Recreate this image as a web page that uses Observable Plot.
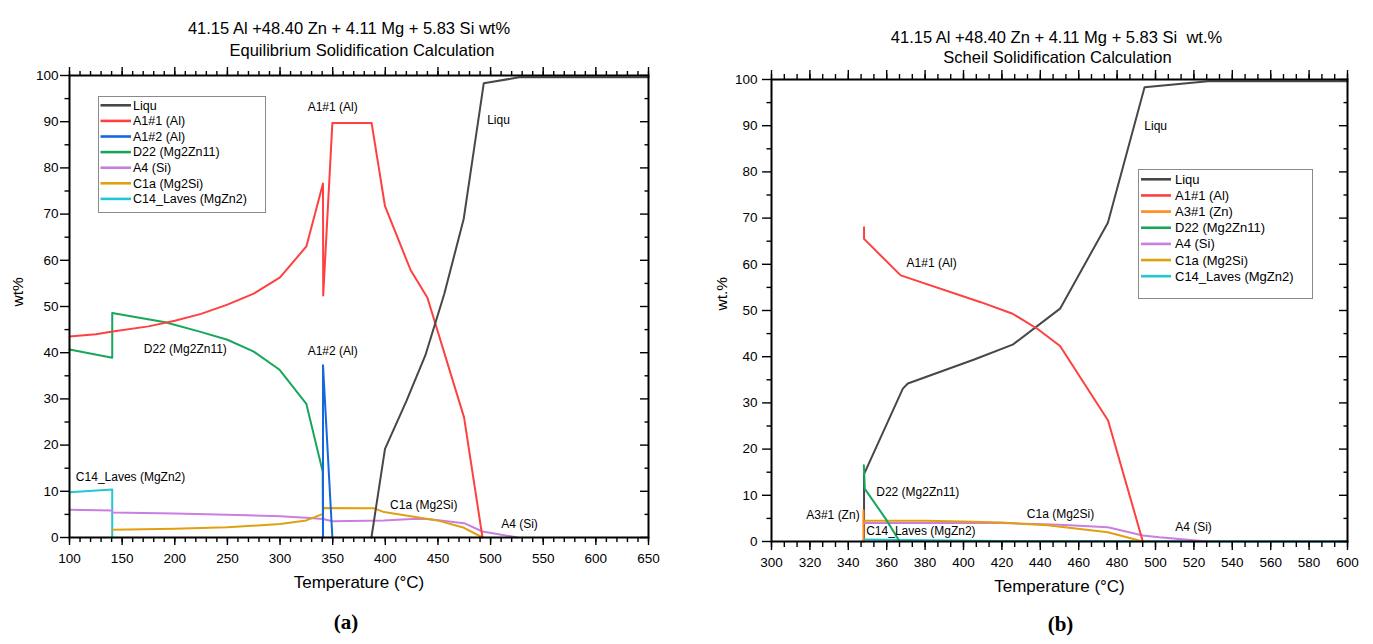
<!DOCTYPE html>
<html><head><meta charset="utf-8">
<script src="https://cdn.jsdelivr.net/npm/d3@7"></script>
<script src="https://cdn.jsdelivr.net/npm/@observablehq/plot@0.6"></script>
<style>
body{margin:0;background:#fff;font-family:"Liberation Sans",Arial,sans-serif}
#wrap{position:relative;width:1373px;height:644px;display:flex;overflow:hidden}
#wrap > svg{flex:none;max-width:none}
.legend{position:absolute;border:1px solid #8a8a8a;background:#fff;box-sizing:border-box}
.legend .clip{overflow:hidden;position:absolute;left:0;top:0;right:0}
</style></head><body><div id="wrap"></div>
<script>
// ---------- data ----------
const yTicks = [0,10,20,30,40,50,60,70,80,90,100];
const yMinorTicks = [5,15,25,35,45,55,65,75,85,95];
const eqXTicks = [100,150,200,250,300,350,400,450,500,550,600,650];
const scXTicks = [300,320,340,360,380,400,420,440,460,480,500,520,540,560,580,600];

const colors = {
  "Liqu": "#474747",
  "A1#1 (Al)": "#ff4040",
  "A1#2 (Al)": "#1467dc",
  "A3#1 (Zn)": "#ff8a1c",
  "D22 (Mg2Zn11)": "#17a65b",
  "A4 (Si)": "#c97ee0",
  "C1a (Mg2Si)": "#e0a010",
  "C14_Laves (MgZn2)": "#1fc8d4"
};

// (a) Equilibrium solidification: [temperature °C, wt%]
const eqLiqu = [[386.8,0],[399.7,19.2],[420,29.5],[438,39.4],[456,52.7],[474.5,69],[493.5,98.3],[527,99.6],[650,99.6]];
const eqA1_1 = [[100,43.5],[125,44.0],[141,44.6],[175,45.7],[200,46.9],[225,48.4],[250,50.4],[275,52.8],[300,56.3],[325,63],[340.8,76.6],[341,52.4],[349.7,89.7],[387,89.7],[399.7,71.7],[424,57.9],[440,51.9],[474.8,26],[492.3,0]];
const eqA1_2 = [[340.8,0],[340.8,37.3],[349.7,0]];
const eqD22 = [[100,40.7],[140.6,38.9],[140.6,48.6],[165,47.6],[191,46.6],[224.5,44.5],[250,42.8],[274.6,40.3],[299.6,36.3],[325,28.9],[340.5,14.3],[340.8,0]];
const eqA4 = [[100,6.0],[140.6,5.85],[140.6,5.4],[200,5.2],[250,4.9],[300,4.6],[325,4.3],[340.8,4.0],[349.7,3.5],[398.8,3.7],[425,4.0],[440,4.0],[474.8,3.1],[492.3,1.3],[525.6,0]];
const eqC1a = [[140.6,1.7],[200,1.9],[250,2.2],[300,2.9],[325,3.7],[340.8,5.1],[341,6.4],[388.7,6.35],[398.8,5.5],[449.4,3.7],[474.8,2.1],[492.3,0]];
const eqC14 = [[100,9.8],[140.6,10.4],[140.6,0]];

// (b) Scheil solidification: [temperature °C, wt%]
const scLiqu = [[348.2,0],[348.2,14.6],[368.4,33.1],[371,34.2],[405.6,39.4],[425.6,42.6],[450.3,50.4],[475.2,69],[494.3,98.3],[527.3,99.6],[600,99.6]];
const scA1_1 = [[348.2,68],[348.2,65.5],[367.3,57.6],[409,51.8],[425.6,49.3],[438.6,46],[450.3,42.3],[475.3,26.2],[493.4,0]];
const scA3_1 = [[347.9,0],[347.9,6.7]];
const scD22 = [[348.1,16.5],[348.6,11.4],[359.5,4.9],[366.4,0.2]];
const scA4 = [[347.9,4.0],[400,4.0],[420,4.0],[450,3.6],[475.2,3.1],[493.4,1.3],[502,0.9],[527,0]];
const scC1a = [[347.9,4.5],[380,4.5],[400,4.35],[420,4.1],[443.8,3.5],[475.2,2.0],[493.4,0]];
const scC14 = [[347.9,0.45],[370,0.35],[420,0.1],[600,0]];

const eqLabels = [
  {text:"A1#1 (Al)", T:350, w:93.1},
  {text:"Liqu", T:507.5, w:90.3},
  {text:"A1#2 (Al)", T:350, w:40.3},
  {text:"D22 (Mg2Zn11)", T:210, w:40.7},
  {text:"C14_Laves (MgZn2)", T:158, w:13.05},
  {text:"C1a (Mg2Si)", T:436.5, w:6.9},
  {text:"A4 (Si)", T:527.5, w:2.95}
];
const scLabels = [
  {text:"Liqu", T:500.1, w:90.0},
  {text:"A1#1 (Al)", T:383.4, w:60.2},
  {text:"D22 (Mg2Zn11)", T:376.2, w:10.7},
  {text:"A3#1 (Zn)", T:332, w:5.6},
  {text:"C14_Laves (MgZn2)", T:377.8, w:2.2},
  {text:"C1a (Mg2Si)", T:450.5, w:6.0},
  {text:"A4 (Si)", T:519.8, w:3.1}
];

const eqSeries = [["Liqu",eqLiqu],["A1#1 (Al)",eqA1_1],["A1#2 (Al)",eqA1_2],["D22 (Mg2Zn11)",eqD22],["A4 (Si)",eqA4],["C1a (Mg2Si)",eqC1a],["C14_Laves (MgZn2)",eqC14]];
const scSeries = [["Liqu",scLiqu],["A1#1 (Al)",scA1_1],["A3#1 (Zn)",scA3_1],["D22 (Mg2Zn11)",scD22],["A4 (Si)",scA4],["C1a (Mg2Si)",scC1a],["C14_Laves (MgZn2)",scC14]];

// ---------- drawing ----------
const font = "'Liberation Sans', Arial, Helvetica, sans-serif";

function buildPanel(o){
  const marks = [];
  const order = o.drawOrder.map(n => o.series.find(s => s[0] === n));
  for (const [name, pts] of order) {
    marks.push(Plot.line(pts, {x: d => d[0], y: d => d[1], stroke: colors[name], strokeWidth: 2}));
  }
  marks.push(Plot.frame({stroke: "#000", strokeWidth: 2}));
  const ax = {strokeWidth: 1.4, label: null};
  marks.push(Plot.axisX({...ax, anchor:"bottom", ticks:o.xTicks, tickSize:o.tb[0], tickPadding:o.xPad, fontSize:13.5, tickFormat:d=>String(d)}));
  marks.push(Plot.axisX({...ax, anchor:"bottom", ticks:o.xMinor, tickSize:o.tb[1], tickFormat:()=>""}));
  marks.push(Plot.axisX({...ax, anchor:"top", ticks:o.xTicks, tickSize:o.tt[0], tickFormat:()=>""}));
  marks.push(Plot.axisX({...ax, anchor:"top", ticks:o.xMinor, tickSize:o.tt[1], tickFormat:()=>""}));
  marks.push(Plot.axisY({...ax, anchor:"left", ticks:yTicks, tickSize:9, tickPadding:o.yPad, fontSize:13.5, tickFormat:d=>String(d)}));
  marks.push(Plot.axisY({...ax, anchor:"left", ticks:yMinorTicks, tickSize:4.5, tickFormat:()=>""}));
  marks.push(Plot.axisY({...ax, anchor:"right", ticks:yTicks, tickSize:-9, tickPadding:0, tickFormat:()=>""}));
  marks.push(Plot.axisY({...ax, anchor:"right", ticks:yMinorTicks, tickSize:-4.5, tickPadding:0, tickFormat:()=>""}));
  marks.push(Plot.text(o.labels, {x:"T", y:"w", text:"text", fontSize:12, fill:"#000"}));
  marks.push(Plot.text([o.title1], {text:d=>d, frameAnchor:"top", dx:o.t1dx, dy:o.t1dy, fontSize:16.5, fill:"#000"}));
  marks.push(Plot.text([o.title2], {text:d=>d, frameAnchor:"top", dx:o.t2dx, dy:o.t2dy, fontSize:16.5, fill:"#000"}));
  marks.push(Plot.text(["Temperature (°C)"], {text:d=>d, frameAnchor:"bottom", dy:o.xLabDy, fontSize:17, fill:"#000"}));
  marks.push(Plot.text([o.yLabel], {text:d=>d, frameAnchor:"left", dx:o.yLabDx, rotate:-90, fontSize:15.5, fill:"#000"}));
  marks.push(Plot.text([o.tag], {text:d=>d, frameAnchor:"bottom", dx:o.tagDx, dy:o.tagDy, fontSize:21, fontWeight:"bold", fontFamily:"'Liberation Serif', 'Times New Roman', serif", fill:"#000"}));
  return Plot.plot({
    width: o.width, height: 644,
    marginTop: o.mT, marginBottom: 644 - o.bottomY, marginLeft: o.mL, marginRight: o.mR,
    x: {domain: o.xDomain, label: null},
    y: {domain: [0, 100], label: null},
    style: {fontFamily: font, background: "#fff", color: "#000", overflow: "visible"},
    marks
  });
}

function legend(parent, o){
  const box = document.createElement("div");
  box.className = "legend";
  Object.assign(box.style, {left:o.left+"px", top:o.top+"px", width:o.w+"px", height:o.h+"px"});
  const clip = document.createElement("div");
  clip.className = "clip";
  clip.style.height = o.clipH + "px";
  const svg = d3.select(clip).append("svg").attr("width", o.w).attr("height", o.h);
  o.names.forEach((n, i) => {
    const cy = o.y0 + i * o.dy;
    svg.append("line").attr("x1", o.lx0).attr("x2", o.lx1).attr("y1", cy).attr("y2", cy)
      .attr("stroke", colors[n]).attr("stroke-width", 2.6);
    svg.append("text").attr("x", o.tx).attr("y", cy).attr("dy", "0.35em")
      .attr("font-family", font).attr("font-size", o.fs).attr("fill", "#000").text(n);
  });
  box.appendChild(clip);
  parent.appendChild(box);
}

const wrap = document.getElementById("wrap");

const eqMinor = d3.range(100, 651, 10);
const scMinor = d3.range(0, 46).map(i => 300 + i * 20 / 3);

wrap.appendChild(buildPanel({
  width: 686, mL: 69, mR: 38, mT: 75, bottomY: 537,
  xDomain: [100, 650], xTicks: eqXTicks, xMinor: eqMinor,
  tb: [8, 5], tt: [9, 5], xPad: 8, yPad: 2,
  series: eqSeries,
  drawOrder: ["C14_Laves (MgZn2)","D22 (Mg2Zn11)","A4 (Si)","C1a (Mg2Si)","A1#1 (Al)","A1#2 (Al)","Liqu"],
  labels: eqLabels,
  title1: "41.15 Al +48.40 Zn + 4.11 Mg + 5.83 Si wt%",
  title2: "Equilibrium Solidification Calculation",
  t1dx: -10, t2dx: 3, t1dy: -53, t2dy: -31,
  xLabDy: 50, yLabel: "wt%", yLabDx: -51,
  tag: "(a)", tagDx: -13, tagDy: 91
}));

wrap.appendChild(buildPanel({
  width: 687, mL: 85, mR: 26, mT: 79, bottomY: 541,
  xDomain: [300, 600], xTicks: scXTicks, xMinor: scMinor,
  tb: [9, 6], tt: [10, 6], xPad: 7, yPad: 5,
  series: scSeries,
  drawOrder: ["Liqu","C14_Laves (MgZn2)","A4 (Si)","C1a (Mg2Si)","A3#1 (Zn)","D22 (Mg2Zn11)","A1#1 (Al)"],
  labels: scLabels,
  title1: "41.15 Al +48.40 Zn + 4.11 Mg + 5.83 Si\u00a0 wt.%",
  title2: "Scheil Solidification Calculation",
  t1dx: -3, t2dx: -2, t1dy: -48, t2dy: -28,
  xLabDy: 50, yLabel: "wt.%", yLabDx: -49,
  tag: "(b)", tagDx: 1, tagDy: 89
}));

legend(wrap, {left:98, top:96, w:168, h:117, clipH:115, names: eqSeries.map(s=>s[0]),
  y0:8.3, dy:15.6, lx0:1.5, lx1:32, tx:34, fs:12.5});
legend(wrap, {left:1138, top:169, w:175, h:130, clipH:128, names: scSeries.map(s=>s[0]),
  y0:9.3, dy:16.15, lx0:2, lx1:32, tx:36, fs:13});
</script></body></html>
